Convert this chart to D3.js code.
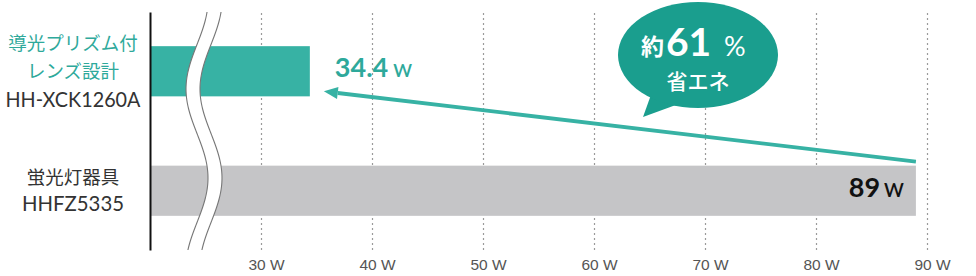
<!DOCTYPE html>
<html><head><meta charset="utf-8">
<script src="https://cdn.jsdelivr.net/npm/d3@7/dist/d3.min.js"></script>
<style>
body{margin:0;background:#fff;}
svg{display:block;}
</style></head>
<body>
<svg id="chart" width="976" height="276"></svg>
<script>
// ---- data ----
const categories = ["new", "old"];
const categoryLines = [["導光プリズム付", "レンズ設計", "HH-XCK1260A"], ["蛍光灯器具", "HHFZ5335"]];
const values = [34.4, 89];
const valueLabels = ["34.4", "89"];
const unit = "W";
const tickValues = [30, 40, 50, 60, 70, 80, 90];
const savingPct = "61";

// ---- setup ----
const svg = d3.select("#chart");
const x = d3.scaleLinear().domain([20, 90]).range([150, 927]);
const y = d3.scaleBand().domain(categories).range([12, 250]).paddingInner(0.58).paddingOuter(0.286);

const teal = "#37b2a4", tealText = "#2ea99b", bubbleCol = "#1a9e8e", grayBar = "#c5c5c7";
const latin = "Lato, 'Noto Sans', sans-serif";
const cjk = "'Noto Sans CJK JP', sans-serif";

// gridlines + tick labels via bottom axis
const xAxis = d3.axisBottom(x).tickValues(tickValues).tickFormat(d => d + " " + unit)
  .tickSize(-238).tickPadding(9);
const gx = svg.append("g").attr("transform", "translate(0,250)").call(xAxis);
gx.select(".domain").remove();
gx.selectAll(".tick line").attr("stroke", "#9a9a9a").attr("stroke-dasharray", "2,3").attr("stroke-width", 1.2);
gx.selectAll(".tick text").attr("fill", "#555").attr("font-size", 15.5)
  .attr("font-family", "'Liberation Sans', Arial, sans-serif").attr("dx", 5);

// bars
svg.append("g").selectAll("rect").data(categories).join("rect")
  .attr("x", x(20))
  .attr("y", d => y(d))
  .attr("width", (d, i) => x(values[i]) - x(20))
  .attr("height", y.bandwidth())
  .attr("fill", (d, i) => i === 0 ? teal : grayBar);

// y axis line
const yAxis = d3.axisLeft(y).tickSize(0).tickFormat("");
const gy = svg.append("g").attr("transform", "translate(150,0)").call(yAxis);
gy.select(".domain").attr("stroke", "#111").attr("stroke-width", 2);

// wave break (decoration)
const ys = d3.range(12, 250.5, 2);
const waveX = yy => 197 + 11 * Math.cos(2 * Math.PI * yy / 178);
const leftPts = ys.map(yy => [waveX(yy), yy]);
const rightPts = ys.map(yy => [waveX(yy) + 14, yy]);
const line = d3.line().curve(d3.curveBasis);
svg.append("path").datum(leftPts)
  .attr("d", d3.area().x0(d => d[0]).x1(d => d[0] + 14).y(d => d[1]).curve(d3.curveBasis))
  .attr("fill", "#fff").attr("stroke", "none");
svg.append("path").datum(leftPts).attr("d", line).attr("fill", "none").attr("stroke", "#777").attr("stroke-width", 1.1);
svg.append("path").datum(rightPts).attr("d", line).attr("fill", "none").attr("stroke", "#777").attr("stroke-width", 1.1);

// category labels
const labelG = svg.append("g");
categoryLines.forEach((lines, ci) => {
  const cy = y(categories[ci]) + y.bandwidth() / 2;
  const lh = ci === 0 ? 27.5 : 26;
  const start = cy - (lines.length - 1) * lh / 2;
  lines.forEach((t, li) => {
    const isCjk = /[\u3000-\u9fff]/.test(t);
    const tx = labelG.append("text")
      .attr("x", 73).attr("y", start + li * lh)
      .attr("dy", "0.36em")
      .attr("text-anchor", "middle")
      .attr("font-family", isCjk ? cjk : latin)
      .attr("font-size", isCjk ? 18.5 : 21.5)
      .attr("fill", (ci === 0 && isCjk) ? tealText : "#333")
      .text(t);
    if (!isCjk) tx.attr("textLength", ci === 0 ? 135 : 102).attr("lengthAdjust", "spacingAndGlyphs");
  });
});

// value labels
const v0 = svg.append("text").attr("x", x(values[0]) + 25).attr("y", y(categories[0]) + 31)
  .attr("font-family", latin).attr("font-weight", 700).attr("fill", tealText);
v0.append("tspan").attr("font-size", 27).text(valueLabels[0]);
v0.append("tspan").attr("font-size", 18).attr("dx", 5).attr("font-weight", 600).text(unit);

const v1 = svg.append("text").attr("x", x(values[1]) - 12).attr("y", y(categories[1]) + 31)
  .attr("text-anchor", "end")
  .attr("font-family", latin).attr("font-weight", 700).attr("fill", "#111");
v1.append("tspan").attr("font-size", 27).text(valueLabels[1]);
v1.append("tspan").attr("font-size", 19).attr("dx", 4).attr("font-weight", 600).text(unit);

// arrow from old bar end to new bar end
const x1 = x(values[1]), y1 = y(categories[1]) - 4;
const x2 = x(values[0]) + 14, y2 = y(categories[0]) + y.bandwidth() - 5;
const ang = Math.atan2(y1 - y2, x1 - x2);
const headL = 14, headW = 6;
const bx = x2 + headL * Math.cos(ang), by = y2 + headL * Math.sin(ang);
svg.append("line").attr("x1", x1).attr("y1", y1).attr("x2", bx).attr("y2", by)
  .attr("stroke", teal).attr("stroke-width", 3.8);
svg.append("polygon").attr("points", [
  [x2, y2],
  [bx + headW * Math.sin(ang), by - headW * Math.cos(ang)],
  [bx - headW * Math.sin(ang), by + headW * Math.cos(ang)]
].map(p => p.join(",")).join(" ")).attr("fill", teal);

// speech bubble
const bub = svg.append("g");
bub.append("polygon").attr("points", "652,92 643,117 684,102").attr("fill", bubbleCol);
bub.append("ellipse").attr("cx", 698).attr("cy", 55).attr("rx", 80).attr("ry", 53).attr("fill", bubbleCol);
bub.append("text").attr("x", 641).attr("y", 55).attr("font-family", cjk).attr("font-weight", 700)
  .attr("font-size", 23).attr("fill", "#fff").text("約");
bub.append("text").attr("x", 666).attr("y", 56).attr("font-family", latin).attr("font-weight", 700)
  .attr("font-size", 39).attr("fill", "#fff").text(savingPct);
bub.append("text").attr("x", 724).attr("y", 56).attr("font-family", latin).attr("font-weight", 400)
  .attr("font-size", 27).attr("fill", "#fff").text("%");
bub.append("text").attr("x", 698).attr("y", 89).attr("text-anchor", "middle").attr("font-family", cjk)
  .attr("font-weight", 500).attr("font-size", 21).attr("fill", "#fff").text("省エネ");
</script>
</body></html>
